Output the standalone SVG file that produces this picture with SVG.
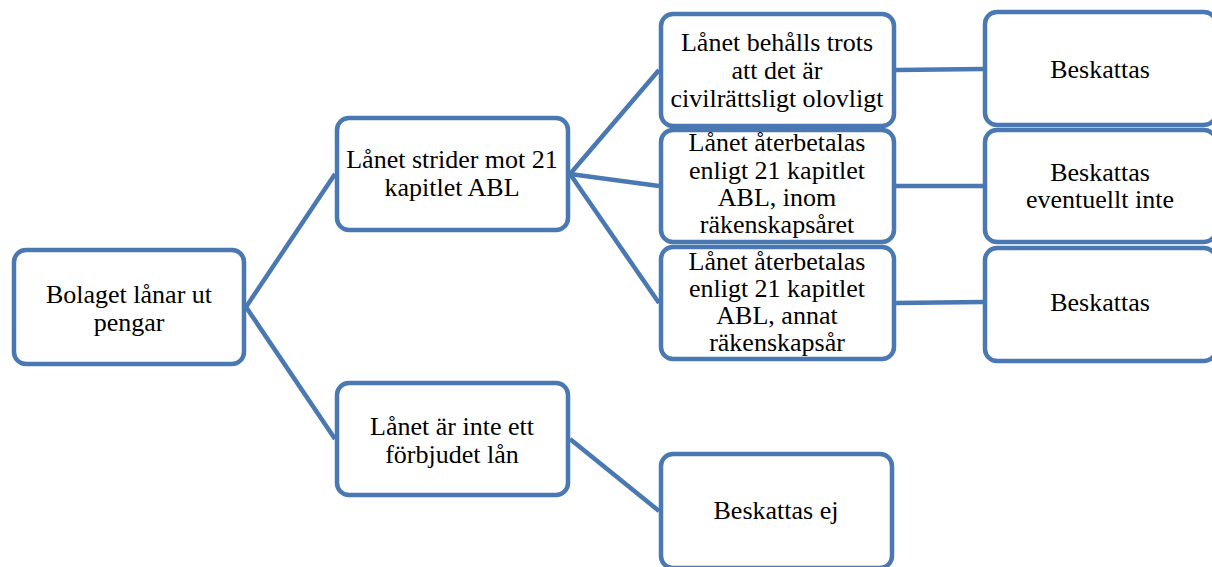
<svg xmlns="http://www.w3.org/2000/svg" width="1212" height="567" viewBox="0 0 1212 567">
<style>
.box{fill:#ffffff;stroke:#4A78B2;stroke-width:4.5}
.conn line{stroke:#4A78B2;stroke-width:4.5;fill:none}
text{font-family:'Liberation Serif',serif;font-size:26px;fill:#000;text-anchor:middle}
</style>
<rect width="1212" height="567" fill="#ffffff"/>
<g id="connectors" class="conn">
<line x1="246" y1="307" x2="335" y2="174"/>
<line x1="246" y1="307" x2="335" y2="439"/>
<line x1="570" y1="174" x2="659" y2="70"/>
<line x1="570" y1="174" x2="659" y2="186"/>
<line x1="570" y1="174" x2="659" y2="303"/>
<line x1="896" y1="70" x2="983" y2="69"/>
<line x1="896" y1="186" x2="983" y2="186"/>
<line x1="896" y1="303" x2="983" y2="302"/>
<line x1="570" y1="439" x2="659" y2="511"/>
</g>
<g id="nodeA"><rect class="box" x="14" y="250" width="230" height="114" rx="12"/>
<text x="129" y="303">Bolaget lånar ut</text><text x="129" y="331">pengar</text></g>
<g id="nodeB"><rect class="box" x="337" y="118" width="231" height="112" rx="12"/>
<text x="452" y="168">Lånet strider mot 21</text><text x="452" y="196">kapitlet ABL</text></g>
<g id="nodeC"><rect class="box" x="337" y="383" width="231" height="112" rx="12"/>
<text x="452" y="435">Lånet är inte ett</text><text x="452" y="463">förbjudet lån</text></g>
<g id="nodeD"><rect class="box" x="661" y="14" width="233" height="112" rx="12"/>
<text x="777" y="51">Lånet behålls trots</text><text x="777" y="79">att det är</text><text x="777" y="107">civilrättsligt olovligt</text></g>
<g id="nodeE"><rect class="box" x="661" y="130" width="233" height="112" rx="12"/>
<text x="777" y="151">Lånet återbetalas</text><text x="777" y="179">enligt 21 kapitlet</text><text x="777" y="206">ABL, inom</text><text x="777" y="233">räkenskapsåret</text></g>
<g id="nodeF"><rect class="box" x="661" y="247" width="233" height="112" rx="12"/>
<text x="777" y="270">Lånet återbetalas</text><text x="777" y="297">enligt 21 kapitlet</text><text x="777" y="324">ABL, annat</text><text x="777" y="351">räkenskapsår</text></g>
<g id="nodeG"><rect class="box" x="985" y="12" width="231" height="113" rx="12"/>
<text x="1100" y="78">Beskattas</text></g>
<g id="nodeH"><rect class="box" x="985" y="130" width="231" height="112" rx="12"/>
<text x="1100" y="181">Beskattas</text><text x="1100" y="208">eventuellt inte</text></g>
<g id="nodeI"><rect class="box" x="985" y="248" width="231" height="113" rx="12"/>
<text x="1100" y="311">Beskattas</text></g>
<g id="nodeJ"><rect class="box" x="661" y="454" width="231" height="114" rx="12"/>
<text x="776" y="519">Beskattas ej</text></g>
</svg>
